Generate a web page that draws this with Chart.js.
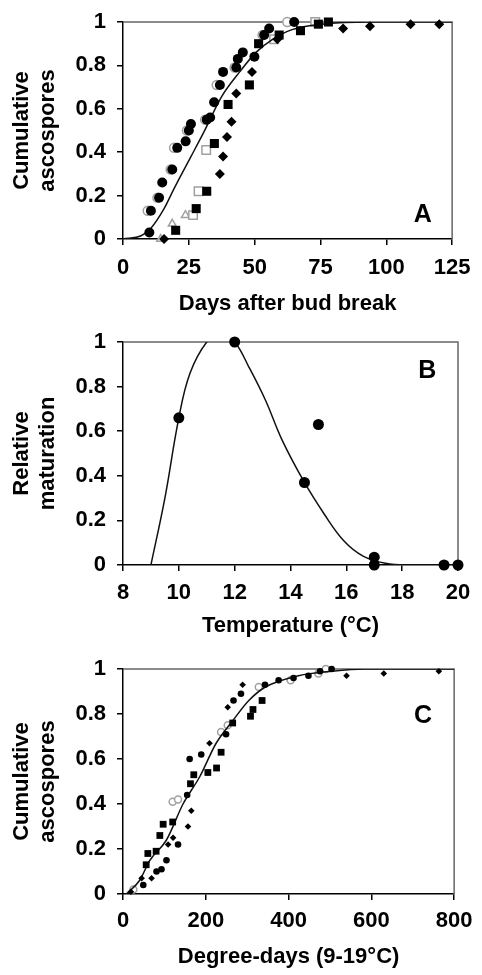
<!DOCTYPE html>
<html>
<head>
<meta charset="utf-8">
<script src="https://cdn.jsdelivr.net/npm/chart.js@4"></script>
<style>
  html, body { margin: 0; padding: 0; background: #fff; }
  #wrap { position: relative; width: 482px; height: 975px; }
  canvas { position: absolute; left: 0; }
</style>
</head>
<body>
<div id="wrap">
  <canvas id="panelA" width="482" height="320" style="top:0px"></canvas>
  <canvas id="panelB" width="482" height="325" style="top:320px"></canvas>
  <canvas id="panelC" width="482" height="330" style="top:645px"></canvas>
</div>
<script>
// ---- panel A: days after bud break ----
const daysCircle = [10, 10.6, 13.7, 14.9, 18.7, 20.6, 23.8, 25, 25.8, 31.8, 33.1, 34.6, 36.8, 38, 43, 43.6, 45.5, 49.9, 53.6, 55.5, 65];
const cumCircle = [0.03, 0.13, 0.19, 0.26, 0.32, 0.42, 0.45, 0.5, 0.53, 0.55, 0.56, 0.63, 0.71, 0.77, 0.79, 0.83, 0.86, 0.84, 0.94, 0.97, 1.0];
const daysSquare = [20, 27.8, 31.8, 34.7, 39.9, 48, 51.5, 59.3, 67.4, 74.2, 78];
const cumSquare = [0.04, 0.14, 0.22, 0.44, 0.62, 0.71, 0.9, 0.94, 0.96, 0.99, 1.0];
const daysDiamond = [15.6, 36.8, 38, 39.5, 41.2, 43, 49, 58.6, 83.6, 93.8, 109.2, 120.1];
const cumDiamond = [0.0, 0.3, 0.38, 0.47, 0.54, 0.67, 0.77, 0.92, 0.97, 0.98, 0.99, 0.99];
const daysOpenCircle = [9.4, 13.1, 18.1, 19.4, 24.3, 31.2, 35.6, 42.4, 53, 62.4];
const cumOpenCircle = [0.13, 0.19, 0.32, 0.42, 0.5, 0.55, 0.71, 0.79, 0.94, 1.0];
const daysOpenSquare = [26.6, 28.7, 31.6, 57.4, 73];
const cumOpenSquare = [0.11, 0.22, 0.41, 0.92, 1.0];
const daysOpenTri = [14.3, 18.7, 23.7];
const cumOpenTri = [0.0, 0.07, 0.11];
const fitDaysA = [0, 6.9, 10.6, 15.6, 19.3, 25.6, 30.6, 37.4, 44.3, 50.5, 56.8, 64.2, 75.5, 94.2, 125];
const fitCumA = [0, 0.015, 0.05, 0.14, 0.23, 0.375, 0.49, 0.655, 0.77, 0.86, 0.92, 0.965, 0.99, 1.0, 1.0];

// ---- panel B: temperature ----
const tempB = [10, 12, 14.5, 15, 17, 17, 19.5, 20];
const relB = [0.66, 1.0, 0.37, 0.63, 0.035, 0, 0, 0];
const fitTempB = [9.0, 9.5, 10, 10.4, 11, 11.5, 12, 12.5, 13.1, 13.7, 14.5, 15.2, 15.9, 16.6, 17.4, 18.3, 20];
const fitRelB = [0, 0.3, 0.66, 0.86, 1.0, 1.04, 1.0, 0.89, 0.74, 0.56, 0.37, 0.23, 0.11, 0.04, 0.008, 0, 0];

// ---- panel C: degree-days ----
const ddCircle = [49, 81, 93, 105, 133, 155, 161, 189, 249, 267, 285, 343, 376, 412, 448, 476, 504];
const cumCircleC = [0.04, 0.1, 0.11, 0.15, 0.22, 0.44, 0.6, 0.62, 0.71, 0.86, 0.89, 0.93, 0.95, 0.96, 0.97, 0.99, 1.0];
const ddSquare = [56, 60, 80, 89, 97, 120, 163, 171, 205, 226, 237, 265, 308, 314, 336];
const cumSquareC = [0.13, 0.18, 0.19, 0.26, 0.31, 0.32, 0.49, 0.53, 0.54, 0.56, 0.63, 0.76, 0.79, 0.82, 0.86];
const ddDiamond = [19, 45, 69, 109, 121, 157, 165, 209, 253, 289, 540, 630, 763];
const cumDiamondC = [0.01, 0.07, 0.07, 0.22, 0.25, 0.3, 0.37, 0.67, 0.83, 0.93, 0.97, 0.98, 0.99];
const ddOpen = [25, 120, 133, 237, 253, 328, 405, 472, 490];
const cumOpenC = [0.02, 0.41, 0.42, 0.72, 0.75, 0.92, 0.95, 0.98, 1.0];
const fitDdC = [8, 40, 65, 105, 145, 185, 225, 265, 304, 344, 424, 504, 583, 800];
const fitCumC = [0, 0.06, 0.15, 0.24, 0.4, 0.52, 0.67, 0.77, 0.86, 0.92, 0.97, 0.99, 1.0, 1.0];

const FONT = "'Liberation Sans', Arial, sans-serif";

function pts(xs, ys) {
    return xs.map((x, i) => ({ x: x, y: ys[i] }));
}

function filled(xs, ys, style, r) {
    return { data: pts(xs, ys), pointStyle: style, pointRadius: r, backgroundColor: "#000",
             borderColor: "#000", borderWidth: 0, clip: false };
}

function open(xs, ys, style, r) {
    return { data: pts(xs, ys), pointStyle: style, pointRadius: r, backgroundColor: "#fff",
             borderColor: "#a0a0a0", borderWidth: 1.5, clip: false };
}

function fit(xs, ys, smooth) {
    const ds = { data: pts(xs, ys), showLine: true, pointRadius: 0, borderColor: "#111", borderWidth: 1.5 };
    if (smooth) {
        ds.tension = 0.4;
    } else {
        ds.cubicInterpolationMode = "monotone";
    }
    return ds;
}

// box on top/right + the panel letter
const frame = {
    id: "frame",
    beforeDatasetsDraw(chart) {
        const ctx = chart.ctx;
        const a = chart.chartArea;
        ctx.save();
        ctx.strokeStyle = "#666";
        ctx.lineWidth = 1.5;
        ctx.beginPath();
        ctx.moveTo(a.left, a.top);
        ctx.lineTo(a.right, a.top);
        ctx.lineTo(a.right, a.bottom);
        ctx.stroke();
        ctx.restore();
    },
    afterDatasetsDraw(chart, args, opts) {
        const ctx = chart.ctx;
        ctx.save();
        ctx.font = "bold 25px " + FONT;
        ctx.fillStyle = "#000";
        ctx.textAlign = "center";
        ctx.textBaseline = "middle";
        ctx.fillText(opts.text, chart.scales.x.getPixelForValue(opts.x), chart.scales.y.getPixelForValue(opts.y));
        ctx.restore();
    }
};

function panel(id, c) {
    const tickFont = { family: FONT, size: 22, weight: "bold", lineHeight: 1 };
    const titleFont = { family: FONT, size: 22, weight: "bold", lineHeight: 1.2 };
    return new Chart(document.getElementById(id), {
        type: "scatter",
        data: { datasets: c.datasets },
        plugins: [frame],
        options: {
            responsive: false,
            animation: false,
            layout: { padding: { top: c.top, right: 482 - c.right, left: 0, bottom: 0 } },
            plugins: { legend: { display: false }, tooltip: { enabled: false }, frame: c.letter },
            scales: {
                x: {
                    type: "linear", min: c.xMin, max: c.xMax,
                    ticks: { stepSize: c.xStep, font: tickFont, color: "#000", padding: c.xTickPad, maxRotation: 0, autoSkip: false },
                    grid: { drawOnChartArea: false, tickLength: 6, color: "#000", lineWidth: 1.5 },
                    border: { color: "#000", width: 1.5 },
                    title: { display: true, text: c.xTitle, font: titleFont, color: "#000", padding: { top: 0, bottom: c.xTitlePad } },
                    afterFit(axis) { axis.height = c.xHeight; }
                },
                y: {
                    type: "linear", min: 0, max: 1,
                    ticks: { stepSize: 0.2, font: tickFont, color: "#000", padding: 11,
                             callback: v => String(Number(v.toFixed(1))) },
                    grid: { drawOnChartArea: false, tickLength: 6, color: "#000", lineWidth: 1.5 },
                    border: { color: "#000", width: 1.5 },
                    title: { display: true, text: c.yTitle, font: titleFont, color: "#000", padding: { top: 8.5, bottom: 0 } },
                    afterFit(axis) { axis.width = 123; }
                }
            }
        }
    });
}

panel("panelA", {
    datasets: [
        filled(daysCircle, cumCircle, "circle", 5),
        filled(daysSquare, cumSquare, "rect", 6.4),
        filled(daysDiamond, cumDiamond, "rectRot", 5),
        fit(fitDaysA, fitCumA),
        open(daysOpenCircle, cumOpenCircle, "circle", 4.5),
        open(daysOpenSquare, cumOpenSquare, "rect", 6),
        open(daysOpenTri, cumOpenTri, "triangle", 4.5)
    ],
    top: 12, right: 459, xHeight: 81,
    xMin: 0, xMax: 125, xStep: 25, xTickPad: 11.5, xTitlePad: 2.4,
    xTitle: "Days after bud break", yTitle: ["Cumulative", "ascospores"],
    letter: { text: "A", x: 113.8, y: 0.11 }
});

panel("panelB", {
    datasets: [
        filled(tempB, relB, "circle", 5.5),
        fit(fitTempB, fitRelB, true)
    ],
    top: 21, right: 458, xHeight: 80,
    xMin: 8, xMax: 20, xStep: 2, xTickPad: 10.5, xTitlePad: 5.4,
    xTitle: "Temperature (°C)", yTitle: ["Relative", "maturation"],
    letter: { text: "B", x: 18.9, y: 0.87 }
});

panel("panelC", {
    datasets: [
        filled(ddCircle, cumCircleC, "circle", 3.3),
        filled(ddSquare, cumSquareC, "rect", 4.8),
        filled(ddDiamond, cumDiamondC, "rectRot", 3.3),
        fit(fitDdC, fitCumC),
        open(ddOpen, cumOpenC, "circle", 3.5)
    ],
    top: 24, right: 457, xHeight: 81,
    xMin: 0, xMax: 800, xStep: 200, xTickPad: 9.5, xTitlePad: 4.4,
    xTitle: "Degree-days (9-19°C)", yTitle: ["Cumulative", "ascospores"],
    letter: { text: "C", x: 725, y: 0.79 }
});
</script>
</body>
</html>
